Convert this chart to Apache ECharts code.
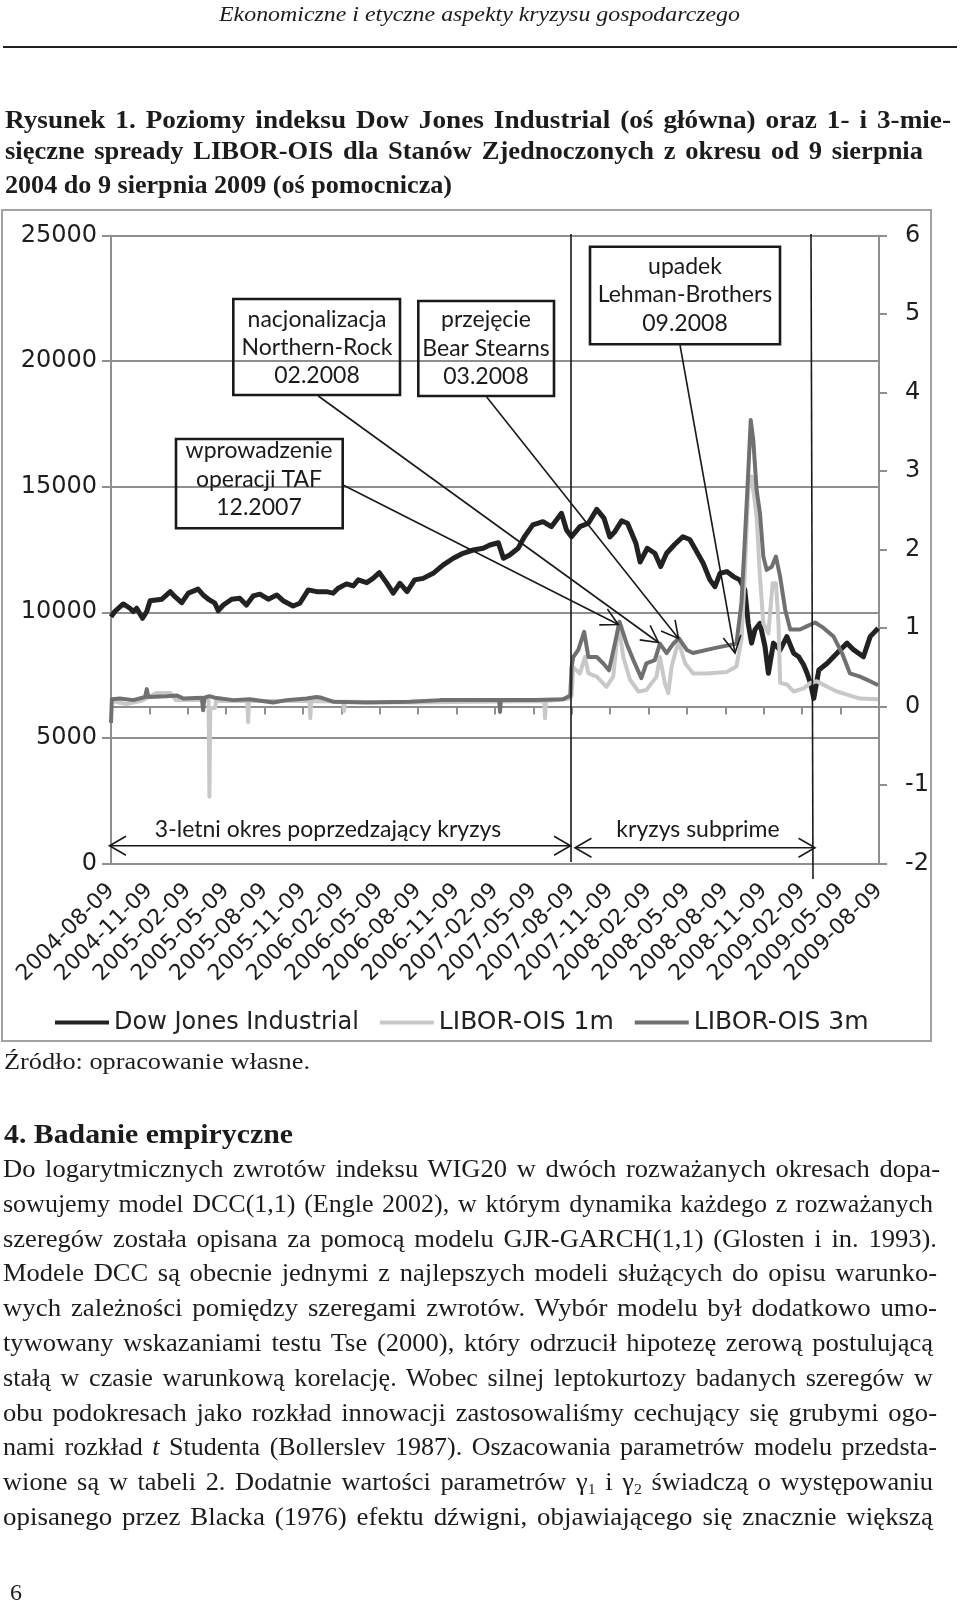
<!DOCTYPE html>
<html>
<head>
<meta charset="utf-8">
<script src="https://cdn.jsdelivr.net/npm/echarts@6/dist/echarts.min.js"></script>
<style>
html, body { margin: 0; padding: 0; background: #fff; }
#page { position: relative; width: 960px; height: 1611px; overflow: hidden; }
#chart { position: absolute; left: 0; top: 0; width: 960px; height: 1611px; }
.ln { position: absolute; white-space: nowrap; font-family: 'Liberation Serif', serif; color: #1c1c1c; transform-origin: 0 50%; }
.rule { position: absolute; left: 3px; top: 46px; width: 954px; height: 2px; background: #222; }
</style>
</head>
<body>
<div id="page">
  <div class="rule"></div>
  <div id="chart"></div>
</div>
<script>
// etykiety osi X (co kwartał)
const xLabels = [
  '2004-08-09', '2004-11-09', '2005-02-09', '2005-05-09', '2005-08-09', '2005-11-09',
  '2006-02-09', '2006-05-09', '2006-08-09', '2006-11-09', '2007-02-09', '2007-05-09',
  '2007-08-09', '2007-11-09', '2008-02-09', '2008-05-09', '2008-08-09', '2008-11-09',
  '2009-02-09', '2009-05-09', '2009-08-09'
];

// Dow Jones Industrial (oś główna)
const djDates = [
  '2004-08-09', '2004-08-18', '2004-09-07', '2004-09-23', '2004-10-01', '2004-10-09', '2004-10-23', '2004-11-02',
  '2004-11-10', '2004-12-08', '2004-12-28', '2005-01-08', '2005-01-24', '2005-02-09', '2005-03-04', '2005-03-16',
  '2005-03-31', '2005-04-13', '2005-04-21', '2005-05-03', '2005-05-23', '2005-06-11', '2005-06-27', '2005-07-13',
  '2005-07-29', '2005-08-18', '2005-09-07', '2005-09-22', '2005-10-16', '2005-11-01', '2005-11-21', '2005-12-11',
  '2006-01-03', '2006-01-19', '2006-01-31', '2006-02-20', '2006-03-08', '2006-03-20', '2006-04-09', '2006-04-24',
  '2006-05-09', '2006-05-26', '2006-06-11', '2006-06-27', '2006-07-14', '2006-08-01', '2006-08-21', '2006-09-14',
  '2006-10-08', '2006-11-01', '2006-11-24', '2006-12-18', '2007-01-11', '2007-01-27', '2007-02-16', '2007-02-28',
  '2007-03-15', '2007-04-04', '2007-04-19', '2007-05-09', '2007-06-02', '2007-06-22', '2007-07-16', '2007-07-28',
  '2007-08-09', '2007-08-29', '2007-09-18', '2007-10-08', '2007-10-25', '2007-11-08', '2007-11-20', '2007-12-06',
  '2007-12-20', '2008-01-09', '2008-01-19', '2008-02-05', '2008-02-23', '2008-03-08', '2008-03-22', '2008-04-10',
  '2008-04-30', '2008-05-16', '2008-05-28', '2008-06-17', '2008-07-03', '2008-07-15', '2008-07-27', '2008-08-12',
  '2008-08-28', '2008-09-12', '2008-09-24', '2008-10-02', '2008-10-10', '2008-10-18', '2008-10-30', '2008-11-11',
  '2008-11-19', '2008-12-01', '2008-12-17', '2009-01-02', '2009-01-18', '2009-01-30', '2009-02-11', '2009-02-19',
  '2009-02-27', '2009-03-07', '2009-03-19', '2009-04-08', '2009-05-01', '2009-05-25', '2009-06-10', '2009-07-03',
  '2009-07-19', '2009-08-07'
];
const djValues = [
  9815, 10030, 10330, 10160, 10030, 10160, 9760, 10030,
  10460, 10520, 10820, 10620, 10380, 10760, 10920, 10690,
  10490, 10360, 10065, 10290, 10520, 10560, 10290, 10650,
  10720, 10520, 10690, 10460, 10250, 10360, 10890, 10820,
  10820, 10760, 10960, 11130, 11050, 11290, 11180, 11350,
  11580, 11180, 10760, 11155, 10820, 11290, 11350, 11550,
  11885, 12150, 12350, 12480, 12550, 12680, 12770, 12150,
  12280, 12550, 13010, 13480, 13610, 13410, 13940, 13280,
  13010, 13410, 13545, 14100, 13750, 13000, 13210, 13640,
  13545, 12750, 12000, 12550, 12350, 11820, 12350, 12700,
  13010, 12900, 12550, 11950, 11290, 11020, 11550, 11620,
  11420, 11290, 10890, 9560, 8770, 9300, 9560, 8630,
  7570, 8770, 8500, 9030, 8370, 8230, 7900, 7570,
  7170, 6570, 7700, 7970, 8370, 8770, 8500, 8230,
  9030, 9360
];

// LIBOR-OIS 1m (oś pomocnicza)
const l1Dates = [
  '2004-08-09', '2004-09-15', '2004-10-20', '2004-11-25', '2004-12-28', '2005-01-10', '2005-03-29', '2005-03-31',
  '2005-04-02', '2005-04-13', '2005-04-16', '2005-06-29', '2005-07-01', '2005-07-03', '2005-11-24', '2005-11-26',
  '2005-11-28', '2006-02-12', '2006-02-14', '2006-02-16', '2006-07-20', '2007-06-05', '2007-06-07', '2007-06-09',
  '2007-08-06', '2007-08-09', '2007-08-13', '2007-08-29', '2007-09-10', '2007-09-18', '2007-10-08', '2007-10-31',
  '2007-11-16', '2007-11-29', '2007-12-10', '2007-12-26', '2008-01-15', '2008-02-03', '2008-02-27', '2008-03-06',
  '2008-03-18', '2008-03-26', '2008-04-03', '2008-04-19', '2008-05-05', '2008-05-24', '2008-06-25', '2008-08-12',
  '2008-09-04', '2008-09-16', '2008-09-24', '2008-10-02', '2008-10-10', '2008-10-22', '2008-10-30', '2008-11-07',
  '2008-11-19', '2008-11-29', '2008-12-07', '2008-12-13', '2008-12-17', '2009-01-02', '2009-01-18', '2009-02-11',
  '2009-02-27', '2009-03-14', '2009-04-08', '2009-05-01', '2009-05-25', '2009-06-25', '2009-08-07'
];
const l1Values = [
  0.07, 0.03, 0.07, 0.17, 0.17, 0.08, 0.08, -1.15,
  -0.02, -0.02, 0.07, 0.07, -0.20, 0.07, 0.07, -0.15,
  0.07, 0.06, -0.06, 0.06, 0.05, 0.07, -0.15, 0.07,
  0.10, 0.13, 0.50, 0.42, 0.63, 0.42, 0.38, 0.25,
  0.38, 1.05, 0.63, 0.34, 0.19, 0.21, 0.38, 0.63,
  0.29, 0.17, 0.51, 0.83, 0.55, 0.42, 0.42, 0.44,
  0.51, 0.85, 1.70, 2.76, 2.93, 2.42, 1.65, 1.06,
  0.93, 1.57, 1.57, 1.06, 0.30, 0.28, 0.19, 0.23,
  0.30, 0.32, 0.25, 0.19, 0.15, 0.10, 0.09
];

// LIBOR-OIS 3m (oś pomocnicza)
const l3Dates = [
  '2004-08-09', '2004-08-11', '2004-08-30', '2004-10-01', '2004-10-29', '2004-11-02', '2004-11-06', '2004-12-19',
  '2005-01-12', '2005-01-28', '2005-03-13', '2005-03-16', '2005-03-19', '2005-03-31', '2005-04-13', '2005-05-27',
  '2005-07-05', '2005-08-30', '2005-09-30', '2005-11-17', '2005-12-11', '2005-12-23', '2006-01-19', '2006-04-09',
  '2006-07-20', '2006-10-01', '2007-01-10', '2007-02-18', '2007-02-20', '2007-02-22', '2007-05-15', '2007-07-20',
  '2007-08-06', '2007-08-09', '2007-08-13', '2007-08-25', '2007-09-08', '2007-09-18', '2007-10-08', '2007-10-23',
  '2007-11-06', '2007-11-20', '2007-12-01', '2007-12-18', '2008-01-03', '2008-01-22', '2008-02-03', '2008-02-23',
  '2008-03-06', '2008-03-22', '2008-04-07', '2008-04-20', '2008-05-09', '2008-05-24', '2008-07-11', '2008-09-04',
  '2008-09-16', '2008-09-24', '2008-10-02', '2008-10-08', '2008-10-14', '2008-10-22', '2008-10-30', '2008-11-07',
  '2008-11-15', '2008-11-27', '2008-12-07', '2008-12-17', '2008-12-29', '2009-01-10', '2009-02-02', '2009-02-18',
  '2009-03-10', '2009-03-30', '2009-04-23', '2009-05-13', '2009-06-01', '2009-06-25', '2009-07-19', '2009-08-07'
];
const l3Values = [
  -0.21, 0.09, 0.10, 0.08, 0.12, 0.22, 0.12, 0.13,
  0.14, 0.10, 0.11, -0.05, 0.11, 0.13, 0.11, 0.08,
  0.09, 0.05, 0.08, 0.10, 0.12, 0.11, 0.06, 0.05,
  0.06, 0.08, 0.08, 0.08, -0.07, 0.08, 0.08, 0.09,
  0.14, 0.50, 0.63, 0.72, 0.95, 0.63, 0.63, 0.55,
  0.46, 0.80, 1.08, 0.80, 0.59, 0.36, 0.55, 0.59,
  0.80, 0.68, 0.80, 0.87, 0.72, 0.68, 0.74, 0.80,
  1.32, 2.12, 2.97, 3.65, 3.40, 2.76, 2.46, 1.91,
  1.74, 1.78, 1.91, 1.65, 1.23, 0.98, 0.98, 1.02,
  1.07, 1.00, 0.89, 0.68, 0.42, 0.38, 0.32, 0.27
];

const pairs = (d, v) => d.map((x, i) => [x, v[i]]);

const AXIS_GRAY = '#8f8f8f';
const INK = '#1a1a1a';

// strzałka: otwarty grot przy końcu "tip"
function arrowHead(tip, from, len, ang) {
  const dx = from[0] - tip[0], dy = from[1] - tip[1];
  const d = Math.hypot(dx, dy);
  const ux = dx / d, uy = dy / d;
  const rot = a => [tip[0] + len * (ux * Math.cos(a) - uy * Math.sin(a)),
                    tip[1] + len * (ux * Math.sin(a) + uy * Math.cos(a))];
  return { type: 'polyline', z: 50, shape: { points: [rot(ang), tip, rot(-ang)] },
           style: { stroke: INK, lineWidth: 1.6, fill: null } };
}
function seg(p1, p2, w) {
  return { type: 'line', z: 50, shape: { x1: p1[0], y1: p1[1], x2: p2[0], y2: p2[1] },
           style: { stroke: INK, lineWidth: w || 1.6 } };
}
function label(x, y, text, size) {
  return { type: 'text', z: 51, x: x, y: y,
           style: { text: text, fontSize: size || 23, fontFamily: 'Lato', fill: INK,
                    textAlign: 'center', textVerticalAlign: 'middle' } };
}
function box(x, y, w, h, cx, lines, ys) {
  const out = [{ type: 'rect', z: 50, shape: { x: x, y: y, width: w, height: h },
                 style: { stroke: INK, lineWidth: 2.6, fill: null } }];
  lines.forEach((t, i) => out.push(label(cx, ys[i], t)));
  return out;
}
function pointer(from, tip) {
  return [seg(from, tip), arrowHead(tip, from, 19, 28 * Math.PI / 180)];
}
function span(x1, x2, y) {
  return [seg([x1, y], [x2, y]),
          arrowHead([x1, y], [x2, y], 19, 30 * Math.PI / 180),
          arrowHead([x2, y], [x1, y], 19, 30 * Math.PI / 180)];
}

const graphics = [].concat(
  [{ type: 'rect', z: 1, shape: { x: 2, y: 210, width: 929, height: 831 },
     style: { stroke: '#a2a2a2', lineWidth: 2, fill: null } }],
  // pionowe linie okresów
  [seg([571, 234], [571, 862]), seg([811, 234], [813, 879])],
  box(233.3, 299, 166.7, 96, 317, ['nacjonalizacja', 'Northern-Rock', '02.2008'], [319.3, 347.7, 376]),
  box(418.3, 301, 135.7, 95, 486, ['przejęcie', 'Bear Stearns', '03.2008'], [320, 348.3, 376.7]),
  box(590, 246.7, 190, 97.6, 685, ['upadek', 'Lehman-Brothers', '09.2008'], [266.7, 295, 323.3]),
  box(176, 439, 166.7, 89.3, 259, ['wprowadzenie', 'operacji TAF', '12.2007'], [451, 480, 507.7]),
  pointer([343, 485], [618.3, 624.5]),
  pointer([318.3, 396], [658.5, 642.5]),
  pointer([486.7, 397], [678.5, 638.5]),
  pointer([680, 345], [735, 653]),
  span(109.5, 570.5, 845.7),
  span(575, 815, 847.7),
  [label(328, 829.3, '3-letni okres poprzedzający kryzys'), label(698, 830, 'kryzys subprime')]
);

const chart = echarts.init(document.getElementById('chart'));
chart.setOption({
  animation: false,
  textStyle: { fontFamily: 'DejaVu Sans' },
  grid: { left: 111, top: 235.7, width: 768, height: 627.6 },
  legend: {
    left: 50, top: 1005,
    itemWidth: 54, itemHeight: 4, itemGap: 21, icon: 'rect',
    textStyle: { fontSize: 24, fontFamily: 'DejaVu Sans', color: '#222' },
    data: [
      { name: 'Dow Jones Industrial' },
      { name: 'LIBOR-OIS 1m', textStyle: { fontSize: 25 } },
      { name: 'LIBOR-OIS 3m', textStyle: { fontSize: 25 } }
    ]
  },
  xAxis: [
    { type: 'time', min: '2004-08-09', max: '2009-08-09', show: false },
    {
      type: 'category', data: xLabels, boundaryGap: false, position: 'bottom',
      axisLine: { lineStyle: { color: AXIS_GRAY, width: 2 } },
      axisTick: { show: true, interval: 0, length: 8, lineStyle: { color: AXIS_GRAY, width: 2 } },
      axisLabel: { interval: 0, rotate: 45, margin: 24, fontSize: 22, color: '#1e1e1e', fontFamily: 'DejaVu Sans' },
      splitLine: { show: false }
    }
  ],
  yAxis: [
    {
      type: 'value', min: 0, max: 25000, interval: 5000, position: 'left',
      axisLine: { show: true, lineStyle: { color: AXIS_GRAY, width: 2 } },
      axisTick: { show: true, length: 9, lineStyle: { color: AXIS_GRAY, width: 2 } },
      axisLabel: { fontSize: 24, margin: 14, color: '#1e1e1e', fontFamily: 'DejaVu Sans',
                   formatter: v => String(v) },
      splitLine: { show: true, lineStyle: { color: AXIS_GRAY, width: 2 } }
    },
    {
      type: 'value', min: -2, max: 6, interval: 1, position: 'right',
      axisLine: { show: true, lineStyle: { color: AXIS_GRAY, width: 2 } },
      axisTick: { show: true, length: 8, lineStyle: { color: AXIS_GRAY, width: 2 } },
      axisLabel: { fontSize: 24, margin: 26, color: '#1e1e1e', fontFamily: 'DejaVu Sans',
                   formatter: v => String(v) },
      splitLine: { show: false }
    }
  ],
  series: [
    { name: 'Dow Jones Industrial', type: 'line', xAxisIndex: 0, yAxisIndex: 0, showSymbol: false,
      data: pairs(djDates, djValues), color: '#222',
      lineStyle: { color: '#222', width: 5, join: 'round' }, z: 3 },
    { name: 'LIBOR-OIS 1m', type: 'line', xAxisIndex: 0, yAxisIndex: 1, showSymbol: false,
      data: pairs(l1Dates, l1Values), color: '#c8c8c8',
      lineStyle: { color: '#c8c8c8', width: 4, join: 'round' }, z: 4 },
    { name: 'LIBOR-OIS 3m', type: 'line', xAxisIndex: 0, yAxisIndex: 1, showSymbol: false,
      data: pairs(l3Dates, l3Values), color: '#707070',
      lineStyle: { color: '#707070', width: 4, join: 'round' }, z: 5 }
  ],
  graphic: graphics
});

// tekst strony
const page = document.getElementById('page');
const italic = s => '<i>' + s + '</i>';
const textLines = [
  { h: italic('Ekonomiczne i etyczne aspekty kryzysu gospodarczego'), x: 219, y: 15.4, w: 521, size: 22, mode: 'scale' },
  { h: 'Rysunek 1. Poziomy indeksu Dow Jones Industrial (oś główna) oraz 1- i 3-mie-', x: 5, y: 121, w: 946, size: 26, bold: true, mode: 'justify' },
  { h: 'sięczne spready LIBOR-OIS dla Stanów Zjednoczonych z okresu od 9 sierpnia', x: 5, y: 152, w: 918, size: 26, bold: true, mode: 'justify' },
  { h: '2004 do 9 sierpnia 2009 (oś pomocnicza)', x: 5, y: 186, w: 447, size: 26, bold: true, mode: 'scale' },
  { h: 'Źródło: opracowanie własne.', x: 4, y: 1062, w: 306, size: 24, mode: 'scale' },
  { h: '4. Badanie empiryczne', x: 4, y: 1136, w: 289, size: 27, bold: true, mode: 'scale' },
  { h: 'Do logarytmicznych zwrotów indeksu WIG20 w dwóch rozważanych okresach dopa-', x: 3, y: 1170.6, w: 937, size: 26, mode: 'justify' },
  { h: 'sowujemy model DCC(1,1) (Engle 2002), w którym dynamika każdego z rozważanych', x: 3, y: 1205.6, w: 930, size: 26, mode: 'justify' },
  { h: 'szeregów została opisana za pomocą modelu GJR-GARCH(1,1) (Glosten i in. 1993).', x: 3, y: 1240.5, w: 934, size: 26, mode: 'justify' },
  { h: 'Modele DCC są obecnie jednymi z najlepszych modeli służących do opisu warunko-', x: 3, y: 1274.4, w: 934, size: 26, mode: 'justify' },
  { h: 'wych zależności pomiędzy szeregami zwrotów. Wybór modelu był dodatkowo umo-', x: 3, y: 1309.4, w: 934, size: 26, mode: 'justify' },
  { h: 'tywowany wskazaniami testu Tse (2000), który odrzucił hipotezę zerową postulującą', x: 3, y: 1344.3, w: 930, size: 26, mode: 'justify' },
  { h: 'stałą w czasie warunkową korelację. Wobec silnej leptokurtozy badanych szeregów w', x: 3, y: 1379.3, w: 930, size: 26, mode: 'justify' },
  { h: 'obu podokresach jako rozkład innowacji zastosowaliśmy cechujący się grubymi ogo-', x: 3, y: 1414.2, w: 934, size: 26, mode: 'justify' },
  { h: 'nami rozkład <i>t</i> Studenta (Bollerslev 1987). Oszacowania parametrów modelu przedsta-', x: 3, y: 1448.2, w: 934, size: 26, mode: 'justify' },
  { h: 'wione są w tabeli 2. Dodatnie wartości parametrów γ<sub>1</sub> i γ<sub>2</sub> świadczą o występowaniu', x: 3, y: 1483.1, w: 930, size: 26, mode: 'justify' },
  { h: 'opisanego przez Blacka (1976) efektu dźwigni, objawiającego się znacznie większą', x: 3, y: 1518.1, w: 930, size: 26, mode: 'justify' },
  { h: '6', x: 10, y: 1593, size: 24 }
];

const MAX_WS = 3; // maks. dodatkowy odstęp między wyrazami
textLines.forEach(t => {
  const el = document.createElement('div');
  el.className = 'ln';
  el.innerHTML = t.h;
  el.style.fontSize = t.size + 'px';
  el.style.lineHeight = t.size + 'px';
  el.style.fontWeight = t.bold ? 'bold' : 'normal';
  el.style.left = t.x + 'px';
  el.style.top = (t.y - t.size * 0.55) + 'px';
  el.querySelectorAll('sub').forEach(s => { s.style.fontSize = '60%'; s.style.verticalAlign = '-0.25em'; s.style.lineHeight = '0'; });
  page.appendChild(el);
  if (!t.w) return;
  let natural = el.getBoundingClientRect().width;
  const spaces = el.textContent.split(' ').length - 1;
  if (t.mode === 'justify' && natural < t.w && spaces > 0) {
    const ws = Math.min((t.w - natural) / spaces, MAX_WS);
    el.style.wordSpacing = ws + 'px';
    natural = el.getBoundingClientRect().width;
  }
  if (Math.abs(natural - t.w) > 0.5) el.style.transform = 'scaleX(' + (t.w / natural) + ')';
});
</script>
</body>
</html>
